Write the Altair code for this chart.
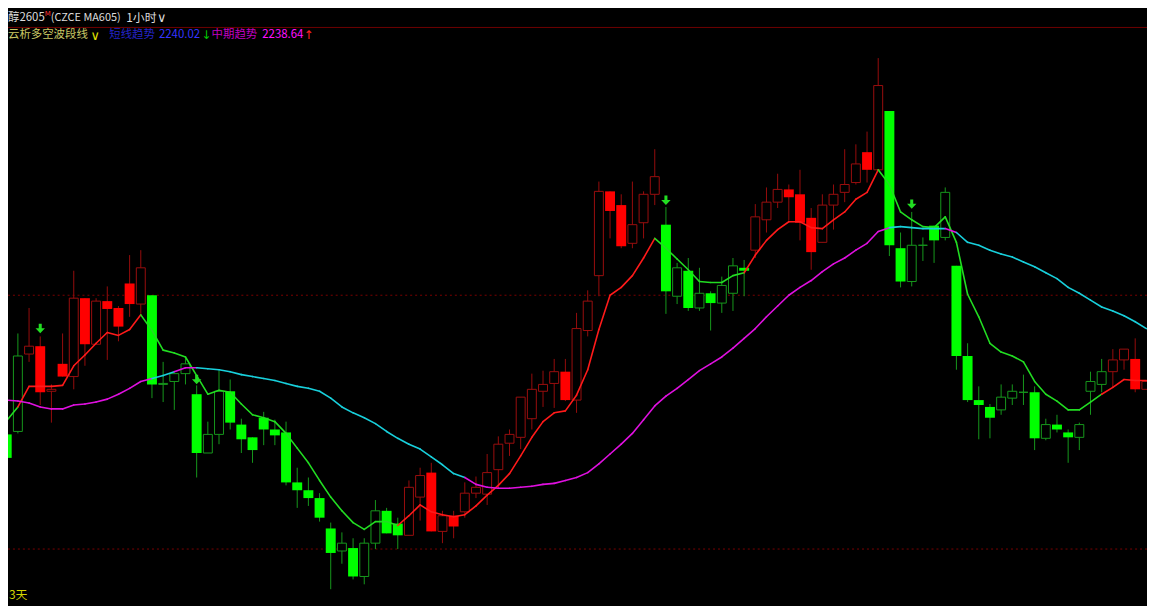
import altair as alt
import pandas as pd

# ---------------- data ----------------
opens = [2283.5, 2285, 2324.5, 2328.5, 2305.5, 2319.5, 2313, 2353, 2329.5, 2351.5,
         2348, 2360.5, 2350, 2354.5, 2309, 2310.5, 2314.5, 2304, 2274, 2283.5,
         2305.5, 2288.5, 2282, 2292, 2286, 2284.5, 2259, 2255, 2251, 2235.5,
         2224, 2225.5, 2211, 2228, 2244.5, 2238, 2232, 2251.5, 2264, 2234,
         2242, 2244, 2253.5, 2253, 2265.5, 2279, 2282, 2291.5, 2305.5, 2309.5,
         2315.5, 2301, 2336.5, 2364.5, 2407.5, 2400.5, 2381, 2391.5, 2406, 2390.5,
         2354, 2367, 2348, 2355.5, 2350.5, 2355.5, 2368.5, 2377.5, 2393, 2402,
         2408.5, 2406, 2394, 2381.5, 2400.5, 2407, 2412, 2427.5, 2418.5, 2448.5,
         2378.5, 2361.5, 2380, 2390, 2384, 2369.5, 2323.5, 2301, 2297.5, 2296,
         2302, 2305, 2305, 2281.5, 2288.5, 2284.5, 2282, 2305.5, 2309, 2315.5,
         2321.5, 2322, 2306.5]
highs = [2285, 2335, 2348, 2333.5, 2309, 2335, 2367, 2353, 2353, 2359,
         2349, 2375, 2377.5, 2354.5, 2320.5, 2314.5, 2323, 2308.5, 2290, 2316,
         2311.5, 2291.5, 2282, 2295, 2291, 2290, 2266.5, 2261.5, 2253.5, 2238.5,
         2233.5, 2230.5, 2230.5, 2250, 2246, 2241, 2260, 2266.5, 2269, 2244.5,
         2244.5, 2259, 2262, 2273.5, 2282.5, 2286, 2302.5, 2314.5, 2316, 2322,
         2322, 2345.5, 2357, 2412.5, 2407.5, 2406, 2412.5, 2407.5, 2429, 2399.5,
         2371, 2373.5, 2368.5, 2356.5, 2364, 2373.5, 2372.5, 2401, 2409.5, 2416.5,
         2411, 2418.5, 2399, 2406, 2411, 2429, 2431.5, 2438, 2475.5, 2448.5,
         2386.5, 2397, 2384, 2390, 2409.5, 2369.5, 2330, 2308, 2299, 2309,
         2309, 2314, 2308, 2291.5, 2293.5, 2286, 2289.5, 2315.5, 2322, 2327,
         2327, 2332.5, 2310.5]
lows = [2270, 2284, 2320.5, 2298.5, 2289.5, 2313, 2306.5, 2318.5, 2329.5, 2321.5,
        2331, 2343.5, 2345, 2302, 2300, 2296, 2309, 2261.5, 2274, 2278.5,
        2286, 2274, 2269, 2278, 2278, 2257.5, 2246, 2247, 2239, 2204.5,
        2217.5, 2209.5, 2207, 2225, 2233, 2225, 2232, 2239.5, 2234, 2228,
        2230.5, 2241, 2251, 2247.5, 2256, 2272.5, 2276, 2286, 2297.5, 2297,
        2300.5, 2294.5, 2333.5, 2354, 2383.5, 2378.5, 2378.5, 2383.5, 2400.5, 2345,
        2350, 2346.5, 2346.5, 2336.5, 2345.5, 2346.5, 2354, 2373.5, 2386.5, 2399,
        2392.5, 2382.5, 2367.5, 2381.5, 2388, 2402, 2411, 2412, 2418.5, 2374.5,
        2358.5, 2359, 2372, 2371, 2382.5, 2316.5, 2300, 2281, 2281.5, 2293.5,
        2298.5, 2298.5, 2275.5, 2280.5, 2284.5, 2269, 2275.5, 2293.5, 2305, 2307.5,
        2316.5, 2305, 2306.5]
closes = [2271.5, 2323.5, 2328.5, 2305, 2306.5, 2313, 2353, 2329.5, 2351.5, 2347.5,
          2338.5, 2350, 2368.5, 2309, 2309.5, 2314.5, 2319.5, 2274, 2283.5, 2305.5,
          2289.5, 2281, 2275.5, 2286, 2283, 2259, 2255, 2251, 2241, 2223,
          2228, 2211, 2228, 2244.5, 2233, 2232, 2256.5, 2262.5, 2234, 2242,
          2236.5, 2253.5, 2256.5, 2264, 2278.5, 2283.5, 2302.5, 2306.5, 2309, 2315.5,
          2301, 2337.5, 2351.5, 2407.5, 2397.5, 2379.5, 2390.5, 2406, 2415, 2356.5,
          2368.5, 2348, 2355.5, 2350.5, 2359.5, 2369.5, 2367, 2394.5, 2402, 2408.5,
          2404.5, 2391.5, 2376.5, 2400.5, 2406, 2411, 2421.5, 2418.5, 2461.5, 2380,
          2361.5, 2380, 2380, 2382.5, 2407, 2323.5, 2301, 2298.5, 2292, 2302.5,
          2305.5, 2305, 2281.5, 2288.5, 2286, 2282, 2288.5, 2310.5, 2315.5, 2321.5,
          2327, 2306.5, 2310.5]

# short-term trend line (red = up state, green = down state)
short_line = [2290.5, 2297.5, 2308, 2308, 2308, 2308.5, 2318.5, 2324, 2330, 2335.5,
              2334, 2337, 2344.5, 2336.5, 2326.5, 2325, 2323, 2313.5, 2304, 2306,
              2305, 2299, 2293.5, 2292, 2290, 2284, 2276.5, 2269, 2260, 2251.5,
              2244.5, 2238.5, 2235, 2239, 2239, 2237, 2242, 2247.5, 2244, 2242.5,
              2241.5, 2242.5, 2247, 2252.5, 2257.5, 2263.5, 2272.5, 2282, 2290, 2294.5,
              2295.5, 2303.5, 2316.5, 2337, 2354.5, 2358.5, 2364.5, 2373.5, 2383.5, 2378.5,
              2373, 2367.5, 2361.5, 2361, 2361, 2364.5, 2366, 2375, 2382.5, 2388,
              2392, 2392, 2389, 2388.5, 2393, 2397, 2403.5, 2407, 2418.5, 2411,
              2397, 2393, 2389.5, 2389, 2394.5, 2381.5, 2355, 2343.5, 2330, 2325.5,
              2323.5, 2320.5, 2310.5, 2304, 2300.5, 2296, 2296, 2300, 2304, 2307.5,
              2311.5, 2311, 2311]
# medium-term trend line (magenta / cyan)
mid_line = [2301, 2300.5, 2299.5, 2297.5, 2296.5, 2296.5, 2298.5, 2299, 2300, 2301.5,
            2304, 2307, 2310.5, 2312, 2313.5, 2315.5, 2317.5, 2317.5, 2317, 2316.5,
            2315.5, 2314, 2313, 2312, 2311, 2309.5, 2308, 2307, 2305.5, 2302,
            2297.5, 2294.5, 2292, 2289, 2285, 2281.5, 2278.5, 2276, 2272, 2268,
            2263.5, 2261.5, 2258, 2256.5, 2256, 2256, 2256.5, 2257, 2258, 2258.5,
            2260, 2261.5, 2264, 2268.5, 2273.5, 2278.5, 2284, 2291, 2298, 2303,
            2307, 2311.5, 2316, 2319.5, 2323, 2327.5, 2332.5, 2337.5, 2343.5, 2349,
            2354.5, 2358.5, 2362, 2366.5, 2370.5, 2373.5, 2377.5, 2381, 2387, 2389,
            2389.5, 2389, 2388.5, 2388.5, 2388.5, 2386.5, 2381.5, 2380, 2377.5, 2375.5,
            2374, 2371.5, 2369, 2366, 2363, 2358.5, 2355.5, 2352, 2348.5, 2346.5,
            2344, 2341, 2337.5]

# state of each bar: R = red (up wave), G = green (down wave)
trend_state = ("GG" + "RRRRRRRRRRR" + "GGGGGGGGGGGGGGGGGGGGGGG" + "RRRRRRRRRRRRRRRRRRRRRRR"
               + "GGGGGGGG" + "RRRRRRRRRRRR" + "GGGGGGGGGGGGGGGGGGGG" + "RRRR")
# medium line state: M = magenta, C = cyan
mid_state = ("MMMMMMMMMMMMMM" + "CC" + "MM" + "CCCCCCCCCCCCCCCCCCCCCCCC"
             + "MMMMMMMMMMMMMMMMMMMMMMMMMMMMMMMMMMMMMM" + "CCCCC" + "M" + "CCCCCCCCCCCCCCCCC")

arrow_bars = [3, 17, 59, 81]
arrow_prices = [2337.5, 2311.5, 2403, 2401]
level_lines = [2354.5, 2225]

n = len(opens)
assert all(len(a) == n for a in [highs, lows, closes, short_line, mid_line, trend_state, mid_state])

W, H = 1147, 598

# ---------------- tables ----------------
bars = pd.DataFrame({"i": list(range(n)), "open": opens, "high": highs, "low": lows,
                     "close": closes, "trend": list(trend_state)})
bars["hollow"] = bars["close"] >= bars["open"]
bars["wick_c"] = bars["trend"].map({"R": "#960c0c", "G": "#16981c"})
bars["body_c"] = bars["trend"].map({"R": "#ff0000", "G": "#00ff00"})
bars["edge_c"] = bars["trend"].map({"R": "#9a0e0e", "G": "#16981c"})
filled = bars[~bars["hollow"]]
hollow = bars[bars["hollow"]]

seg_rows = []
for k in range(1, n):
    seg_rows.append({"x": k - 1, "x2": k, "y": short_line[k - 1], "y2": short_line[k],
                     "c": "#ff1a1a" if trend_state[k] == "R" else "#22dd22"})
    seg_rows.append({"x": k - 1, "x2": k, "y": mid_line[k - 1], "y2": mid_line[k],
                     "c": "#e010e0" if mid_state[k] == "M" else "#18d0dc"})
segs = pd.DataFrame(seg_rows)

arrows = pd.DataFrame({"i": arrow_bars, "p": arrow_prices})
levels = pd.DataFrame({"p": level_lines})

xs = alt.Scale(domain=[0.115, 102.057], nice=False, zero=False, padding=0)
ys = alt.Scale(domain=[2197, 2500], nice=False, zero=False, padding=0)

def X(f):
    return alt.X(f, type="quantitative", scale=xs, axis=None)

def Y(f):
    return alt.Y(f, type="quantitative", scale=ys, axis=None)

level_layer = alt.Chart(levels).mark_rule(color="#7a0000", strokeWidth=1, strokeDash=[2, 3]).encode(
    y=Y("p"))

wicks = alt.Chart(bars).mark_rule(strokeWidth=1, clip=True).encode(
    x=X("i"), y=Y("low"), y2="high", color=alt.Color("wick_c:N", scale=None))

bodies_f = alt.Chart(filled).mark_bar(size=10, clip=True, strokeWidth=0).encode(
    x=X("i"), y=Y("open"), y2="close", color=alt.Color("body_c:N", scale=None))

bodies_h = alt.Chart(hollow).mark_bar(size=9, clip=True, fill="#000000", strokeWidth=1).encode(
    x=X("i"), y=Y("open"), y2="close", stroke=alt.Stroke("edge_c:N", scale=None))

lines = alt.Chart(segs).mark_rule(strokeWidth=1.6, strokeCap="round", clip=True).encode(
    x=X("x"), x2="x2", y=Y("y"), y2="y2", color=alt.Color("c:N", scale=None))

arrow_path = "M-0.32,-1L0.32,-1L0.32,-0.05L1,-0.05L0,1L-1,-0.05L-0.32,-0.05Z"
arrow_layer = alt.Chart(arrows).mark_point(shape=arrow_path, size=90, filled=True, opacity=1,
                                           color="#22dd22", strokeWidth=0, clip=True).encode(
    x=X("i"), y=Y("p"))

FONT = "Noto Sans CJK SC"
SYM = "DejaVu Sans"

def label(text, x, y, color, size=11.5, font=FONT):
    return alt.Chart(pd.DataFrame({"t": [text]})).mark_text(
        align="left", baseline="middle", font=font, fontSize=size, color=color).encode(
        x=alt.value(x), y=alt.value(y), text="t:N")

sep = alt.Chart(pd.DataFrame({"a": [0]})).mark_rule(color="#6e0000", strokeWidth=1).encode(
    x=alt.value(0), x2=alt.value(W), y=alt.value(17.5))

texts = [
    label("醇2605", 0, 8, "#dcdcdc", size=11.5),
    label("M", 37, 3.5, "#ff3030", size=7, font=SYM),
    label("(CZCE MA605)", 43, 8, "#dcdcdc", size=11),
    label("1小时", 119, 8, "#dcdcdc", size=12),
    label("∨", 150, 8, "#dcdcdc", size=13, font=SYM),
    label("云析多空波段线", 0, 25, "#c8c864"),
    label("∨", 83, 26, "#e0e000", size=13, font=SYM),
    label("短线趋势", 102, 25, "#2424c8"),
    label("2240.02", 152, 25, "#3434ff"),
    label("↓", 195, 25, "#00c800", size=12, font=SYM),
    label("中期趋势", 205, 25, "#c000c0"),
    label("2238.64", 256, 25, "#ff10ff"),
    label("↑", 298, 25, "#ff2020", size=12, font=SYM),
    label("3天", 1, 589, "#d4d400", size=12),
]

chart = alt.layer(level_layer, wicks, bodies_f, bodies_h, lines, arrow_layer, sep, *texts).properties(
    width=W, height=H, background="#000000", padding=0, autosize="none",
).configure_view(stroke=None, fill="#000000")

chart.save("out.html", embed_options={"renderer": "svg", "actions": False})
